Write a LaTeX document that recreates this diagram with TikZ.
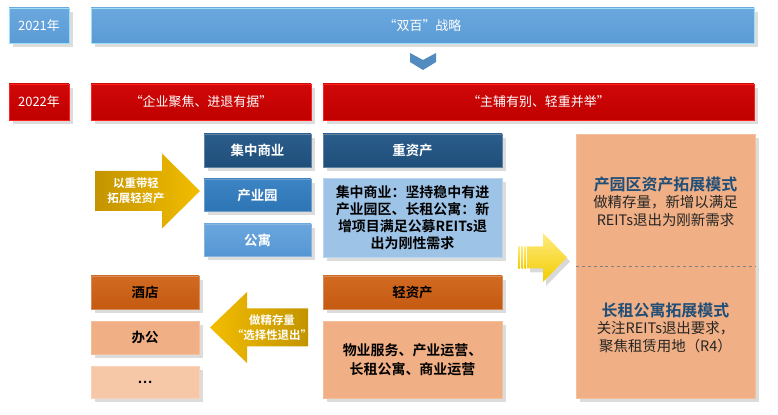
\documentclass[tikz,border=0pt]{standalone}
\usepackage{fontspec}
\setmainfont{Noto Sans CJK SC}[BoldFont={* Bold}]
\usetikzlibrary{positioning,shadows}
\definecolor{skyblue}{HTML}{5B9BD5}
\definecolor{skytop}{HTML}{6AA8DE}
\definecolor{skyline}{HTML}{9BE0F7}
\definecolor{crimson}{HTML}{C00000}
\definecolor{crimsontop}{HTML}{D00808}
\definecolor{crimsonline}{HTML}{FF2020}
\definecolor{navy}{HTML}{1F4E79}
\definecolor{navytop}{HTML}{2B5D8C}
\definecolor{midblue}{HTML}{2E75B6}
\definecolor{midbluetop}{HTML}{3C84C4}
\definecolor{softblue}{HTML}{5596D3}
\definecolor{softbluetop}{HTML}{6BA7DE}
\definecolor{paleblue}{HTML}{9DC3E6}
\definecolor{rust}{HTML}{C55A11}
\definecolor{rusttop}{HTML}{D26A22}
\definecolor{peach}{HTML}{F0AF84}
\definecolor{peachtop}{HTML}{F6BF98}
\definecolor{lightpeach}{HTML}{F6C8A8}
\definecolor{gold}{HTML}{C39400}
\definecolor{goldlight}{HTML}{F3BD00}
\definecolor{lemon}{HTML}{F2CC00}
\definecolor{lemonlight}{HTML}{FFEB80}
\definecolor{titleblue}{HTML}{1F4E79}
\definecolor{bodytext}{HTML}{262626}

\begin{document}
\begin{tikzpicture}[x=1bp,y=1bp,
    box/.style={rectangle,inner sep=0pt,line width=0.8bp,
      drop shadow={opacity=0.28,shadow xshift=3.5bp,shadow yshift=-4bp}},
    bluebar/.style={box,draw=skyline,top color=skytop,bottom color=skyblue,
      text=white,font=\fontsize{13}{15}\selectfont},
    redbar/.style={box,draw=crimsonline,top color=crimsontop,bottom color=crimson,
      text=white,font=\fontsize{13}{15}\selectfont},
    heavybox/.style={box,draw=#1!70!white,top color=#1top,bottom color=#1,
      text=white,font=\fontsize{13.5}{16}\selectfont\bfseries,
      minimum height=33bp},
    lightbox/.style={box,draw=#1!80!white,fill=#1,text=black,
      font=\fontsize{13.5}{16}\selectfont\bfseries,minimum height=33bp},
    arrowtext/.style={text=white,align=center,font=\fontsize{11.5}{15}\selectfont\bfseries}
  ]
  \useasboundingbox (0bp,0bp) rectangle (778bp,415bp);
  %%
  % Node: y2021
  \node [bluebar,minimum width=60bp,minimum height=35bp] (y2021) at (39bp,389.5bp) {2021年};
  % Node: strat2021
  \node [bluebar,minimum width=663bp,minimum height=35bp] (strat2021) at (422.5bp,389.5bp) {“双百”战略};
  % Edge: strat2021 -> mainaux (chevron)
  \fill [skyblue!90!black] (410bp,362bp) -- (423bp,355bp) -- (436bp,362bp)
    -- (436bp,353bp) -- (423bp,345bp) -- (410bp,353bp) -- cycle;
  % Node: y2022
  \node [redbar,minimum width=60bp,minimum height=36bp] (y2022) at (39bp,313bp) {2022年};
  % Node: focus
  \node [redbar,minimum width=220bp,minimum height=36bp] (focus) at (201bp,313bp) {“企业聚焦、进退有据”};
  % Node: mainaux
  \node [redbar,minimum width=431bp,minimum height=36bp] (mainaux) at (538.5bp,313bp) {“主辅有别、轻重并举”};
  %
  % Node: retail
  \node [heavybox=navy,minimum width=107bp] (retail) at (257.5bp,264.5bp) {集中商业};
  % Node: park
  \node [heavybox=midblue,minimum width=107bp,minimum height=32bp] (park) at (257.5bp,220bp) {产业园};
  % Node: apt
  \node [heavybox=softblue,minimum width=107bp,minimum height=32bp] (apt) at (257.5bp,175bp) {公寓};
  % Node: heavy
  \node [heavybox=navy,minimum width=179bp] (heavy) at (412.5bp,264.5bp) {重资产};
  % Node: heavytxt
  \node [box,draw=paleblue!70!white,fill=paleblue,minimum width=179bp,minimum height=79bp,
    align=center,font=\fontsize{14}{17}\selectfont\bfseries] (heavytxt) at (412.5bp,197.5bp)
    {集中商业：坚持稳中有进\\产业园区、长租公寓：新\\增项目满足公募REITs退\\出为刚性需求};
  %
  % Node: hotel
  \node [heavybox=rust,text=black,minimum width=108bp] (hotel) at (145bp,122.5bp) {酒店};
  % Node: office
  \node [lightbox=peach,minimum width=108bp] (office) at (145bp,77.5bp) {办公};
  % Node: more
  \node [lightbox=lightpeach,minimum width=108bp,minimum height=32bp] (more) at (145bp,33bp) {…};
  % Node: light
  \node [heavybox=rust,text=black,minimum width=179bp] (light) at (412.5bp,122.5bp) {轻资产};
  % Node: lighttxt
  \node [lightbox=peach,minimum width=179bp,minimum height=77bp,align=center,
    font=\fontsize{14}{19}\selectfont\bfseries] (lighttxt) at (412.5bp,55.5bp)
    {物业服务、产业运营、\\长租公寓、商业运营};
  %
  % Node: mode
  \node [box,draw=peach!80!white,fill=peach,minimum width=179bp,minimum height=264bp] (mode) at (665.5bp,149bp) {};
  \draw [dashed,gray,line width=0.8bp] (mode.west) -- (mode.east);
  \node [align=center,text=bodytext,font=\fontsize{14.5}{17.5}\selectfont] (parkmode) at (665.5bp,213.5bp)
    {{\fontsize{16}{20}\selectfont\bfseries\color{titleblue}产园区资产拓展模式}\\做精存量，新增以满足\\REITs退出为刚新需求};
  \node [align=center,text=bodytext,font=\fontsize{14.5}{17.5}\selectfont] (aptmode) at (665.5bp,87.5bp)
    {{\fontsize{16}{20}\selectfont\bfseries\color{titleblue}长租公寓拓展模式}\\关注REITs退出要求，\\聚焦租赁用地（R4）};
  %
  % Edge: lighten -> park
  \shade [left color=gold,right color=goldlight] (95bp,244bp) -- (162bp,244bp) -- (162bp,261.5bp)
    -- (200bp,224bp) -- (162bp,186.5bp) -- (162bp,204bp) -- (95bp,204bp) -- cycle;
  \node [arrowtext] (lighten) at (136bp,224bp) {以重带轻\\拓展轻资产};
  % Edge: office <- exit
  \shade [left color=goldlight,right color=gold] (210bp,87.5bp) -- (247bp,123bp) -- (247bp,106.5bp)
    -- (308bp,106.5bp) -- (308bp,68.5bp) -- (247bp,68.5bp) -- (247bp,52bp) -- cycle;
  \node [arrowtext] (exit) at (272bp,87bp) {做精存量\\“选择性退出”};
  % Edge: heavytxt -> mode
  \begin{scope}[top color=lemonlight,bottom color=lemon]
    \shade [drop shadow={opacity=0.3,shadow xshift=3bp,shadow yshift=-4bp}]
      (527bp,168.5bp) -- (543bp,168.5bp) -- (543bp,182bp) -- (567bp,157.5bp)
      -- (543bp,133bp) -- (543bp,146.5bp) -- (527bp,146.5bp) -- cycle;
    \foreach \x in {518,521.5,524.5}
      \shade (\x bp,168.5bp) rectangle +(1.6bp,-22bp);
  \end{scope}
  %
\end{tikzpicture}
\end{document}
